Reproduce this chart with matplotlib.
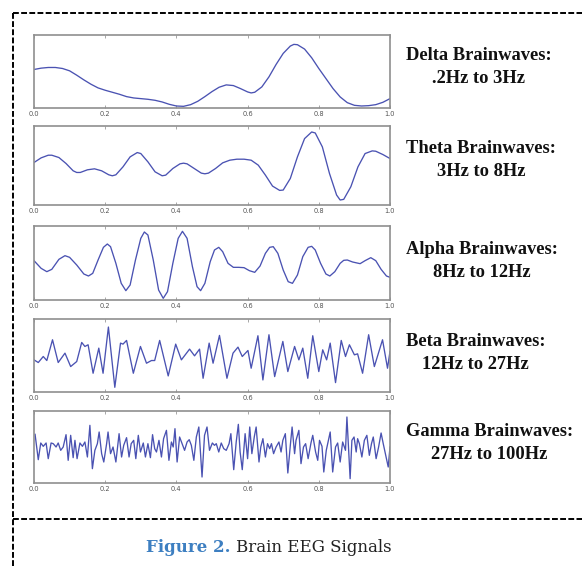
import numpy as np
import matplotlib.pyplot as plt
from matplotlib.lines import Line2D

# sample times (ms) and amplitudes for each EEG band
delta_ms = [0, 20, 40, 60, 80, 100, 120, 140, 160, 180,
            200, 220, 240, 260, 280, 300, 320, 340, 360, 380,
            400, 420, 440, 460, 480, 500, 520, 540, 560, 580,
            600, 610, 620, 640, 660, 680, 700, 720, 730, 740,
            760, 780, 800, 820, 840, 860, 880, 900, 920, 940,
            960, 980, 1000]
delta_uv = [6, 10, 12, 12, 9, 2, -11, -25, -38, -49,
            -56, -62, -68, -75, -79, -81, -83, -86, -91, -98,
            -103, -104, -99, -89, -75, -60, -47, -40, -42, -51,
            -61, -64, -62, -46, -16, 21, 54, 76, 81, 80,
            67, 41, 9, -21, -51, -76, -93, -101, -103, -102,
            -99, -92, -81]

theta_ms = [0, 20, 40, 50, 70, 90, 110, 120, 130, 150,
            170, 190, 210, 220, 230, 250, 270, 290, 300, 320,
            340, 360, 370, 390, 410, 420, 430, 450, 470, 480,
            490, 510, 530, 550, 570, 590, 610, 630, 650, 670,
            690, 700, 720, 740, 760, 780, 790, 810, 830, 850,
            860, 870, 890, 910, 930, 950, 960, 980, 1000]
theta_uv = [9, 23, 31, 31, 24, 6, -16, -21, -21, -13,
            -10, -16, -28, -31, -28, -4, 26, 39, 36, 11,
            -19, -31, -29, -9, 5, 7, 5, -9, -23, -25,
            -23, -9, 8, 16, 19, 19, 16, 1, -29, -62,
            -75, -74, -39, 26, 81, 101, 98, 56, -24, -89,
            -104, -102, -64, -4, 36, 44, 43, 33, 21]

alpha_ms = [0, 20, 36, 50, 70, 87, 100, 120, 140, 153,
            165, 180, 195, 206, 215, 230, 245, 258, 270, 285,
            300, 310, 320, 335, 350, 363, 375, 390, 405, 417,
            430, 445, 458, 468, 480, 495, 507, 519, 530, 545,
            560, 575, 590, 605, 620, 635, 650, 662, 672, 685,
            700, 714, 726, 740, 755, 770, 780, 790, 805, 820,
            831, 845, 860, 870, 880, 895, 916, 930, 946, 960,
            975, 990, 1000]
alpha_uv = [7, -16, -26, -19, 11, 22, 17, -6, -33, -39,
            -31, 9, 47, 57, 49, -1, -61, -83, -66, 9,
            74, 93, 84, 9, -81, -106, -86, -1, 74, 95,
            74, -11, -71, -83, -61, 4, 39, 47, 34, -1,
            -13, -13, -14, -23, -28, -9, 29, 47, 49, 29,
            -21, -56, -61, -36, 19, 47, 50, 39, -1, -33,
            -39, -26, -1, 8, 9, 3, -2, 7, 16, 7,
            -19, -39, -43]

beta_ms = [0, 12, 26, 36, 52, 68, 87, 103, 120, 134,
           143, 152, 166, 182, 194, 209, 227, 243, 250, 260,
           279, 299, 316, 330, 339, 353, 377, 398, 414, 437,
           451, 465, 475, 492, 503, 521, 542, 559, 573, 585,
           601, 610, 629, 643, 660, 676, 699, 713, 732, 744,
           755, 769, 783, 800, 811, 822, 832, 847, 863, 875,
           886, 900, 909, 923, 940, 956, 979, 993, 1000]
beta_uv = [-13, -21, -3, -15, 47, -21, 7, -33, -18, 39,
           27, 32, -53, 22, -53, 85, -95, 37, 34, 45,
           -53, 27, -23, -15, -15, 45, -61, 34, -13, 19,
           -1, 19, -68, 37, -23, 60, -68, 7, 25, -3,
           15, -38, 59, -73, 62, -63, 42, -48, 27, -13,
           22, -68, 59, -48, 17, -13, 37, -81, 45, -3,
           32, 2, 5, -53, 62, -33, 47, -38, 12]

gamma_ms = [3, 12, 19, 26, 34, 40, 48, 54, 62, 68,
            75, 82, 90, 96, 103, 110, 115, 121, 129, 136,
            143, 150, 157, 164, 171, 178, 183, 190, 196, 204,
            208, 215, 222, 230, 239, 246, 252, 260, 267, 273,
            280, 286, 293, 299, 307, 313, 320, 327, 333, 339,
            344, 351, 358, 364, 372, 379, 386, 391, 396, 402,
            409, 416, 423, 430, 436, 442, 449, 456, 463, 472,
            479, 486, 493, 501, 507, 512, 519, 526, 533, 540,
            548, 553, 561, 568, 574, 579, 585, 593, 600, 606,
            612, 619, 624, 632, 637, 643, 650, 656, 662, 667,
            673, 680, 688, 694, 699, 706, 713, 720, 725, 732,
            736, 744, 750, 757, 763, 770, 778, 783, 791, 797,
            802, 809, 814, 821, 827, 832, 839, 847, 853, 860,
            867, 875, 879, 888, 893, 899, 905, 909, 914, 921,
            928, 935, 942, 948, 953, 961, 968, 975, 981, 989,
            995, 1000]
gamma_uv = [38, -38, 12, 2, 12, -35, 12, 10, 0, 12,
            -10, 0, 37, -40, 35, -32, 20, -35, 12, 2,
            15, -30, 65, -65, -10, 10, 45, -20, -45, 10,
            45, -20, 0, -45, 40, -30, 5, 28, -30, 10,
            20, -35, 35, -15, 12, -30, 10, -32, 37, -5,
            -15, 20, -30, 25, 50, -40, 15, 0, 55, -45,
            30, 10, -10, 15, 22, 5, -40, 30, 60, -90,
            35, 60, -10, 12, 5, 10, -15, 12, -5, -10,
            10, 40, -68, 15, 68, -15, -68, 40, -35, 60,
            -20, 32, 60, -45, 0, 25, -30, 10, -5, 10,
            -20, 0, 15, -15, 20, 40, -78, 5, 60, -20,
            20, 50, -50, 0, 10, -35, 12, 35, -15, -40,
            20, 2, -75, -10, 20, 45, -75, 0, 12, -45,
            15, -10, 90, -95, 20, 30, -15, 25, 10, -30,
            20, 35, -25, 10, 30, -35, 0, 42, 10, -30,
            -60, 0]

band_names = ["Delta Brainwaves:\n.2Hz to 3Hz",
              "Theta Brainwaves:\n3Hz to 8Hz",
              "Alpha Brainwaves:\n8Hz to 12Hz",
              "Beta Brainwaves:\n12Hz to 27Hz",
              "Gamma Brainwaves:\n27Hz to 100Hz"]

W, H = 582, 568

def fx(px):
    return px / W

def fy(px):
    return 1 - px / H

fig = plt.figure(figsize=(W / 100, H / 100), dpi=100)

# (top, bottom) pixel rows of each panel, y-limit, label centre row
layout = [(35, 108, 109, 67),
          (126, 205, 119, 160),
          (226, 300, 111, 261),
          (319, 392, 109, 353),
          (411, 483, 108, 443)]
series = [(delta_ms, delta_uv), (theta_ms, theta_uv), (alpha_ms, alpha_uv),
          (beta_ms, beta_uv), (gamma_ms, gamma_uv)]

for (ms, uv), (top, bot, lim, ly), name in zip(series, layout, band_names):
    ax = fig.add_axes([fx(34), fy(bot), fx(390 - 34), (bot - top) / H])
    ax.plot(np.array(ms) / 1000, uv, color="#4a52b2", lw=0.95,
            solid_joinstyle="round")
    ax.set_xlim(0, 1)
    ax.set_ylim(-lim, lim)
    ticks = np.arange(0, 1.01, 0.2)
    ax.set_xticks(ticks)
    ax.set_xticklabels([f"{t:.1f}" for t in ticks])
    ax.set_yticks([])
    ax.tick_params(axis="x", direction="in", top=True, length=2.5,
                   width=0.6, pad=2.5, labelsize=4.8, color="#999999",
                   labelcolor="#555555")
    for s in ax.spines.values():
        s.set_color("#8f8f8f")
        s.set_linewidth(1.2)
    fig.text(fx(406), fy(ly), name, ha="left", va="center",
             multialignment="center", fontsize=13.3, fontweight="bold",
             family="Liberation Serif", color="#111111", linespacing=1.45)

# dashed frame around the figure body
dash = dict(color="black", lw=1.4, linestyle=(0, (3, 1.2)),
            transform=fig.transFigure)
fig.add_artist(Line2D([fx(13), 1], [fy(13), fy(13)], **dash))
fig.add_artist(Line2D([fx(13), 1], [fy(519), fy(519)], **dash))
fig.add_artist(Line2D([fx(13), fx(13)], [fy(13), 0], **dash))

# caption
cap = fig.text(fx(146), fy(547), "Figure 2.", ha="left", va="center",
               fontsize=12, fontweight="bold", family="DejaVu Serif",
               color="#3d7fc1")
fig.canvas.draw()
bb = cap.get_window_extent(fig.canvas.get_renderer())
fig.text(bb.x1 / W + fx(5), fy(547), "Brain EEG Signals", ha="left",
         va="center", fontsize=12, family="DejaVu Serif", color="#222222")

fig.savefig("out.png", dpi=100)
